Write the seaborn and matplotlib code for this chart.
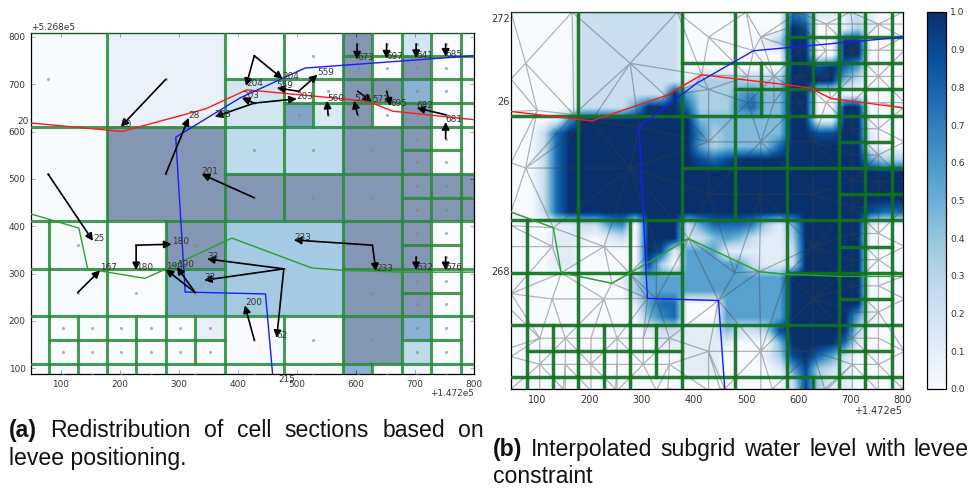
import numpy as np
import matplotlib
matplotlib.use("Agg")
import matplotlib.pyplot as plt
import matplotlib.tri as mtri
from matplotlib.patches import Rectangle
import seaborn as sns

# GRID CELLS (x0, x1, y0, y1, left panel water fraction)
cell_x0 = [-22, 178, 378, 478, 378, 478, 528, 478, 528,
           578, 628, 678, 728, 778, 578, 628, 678, 728, 778,
           578, 628, 678, 728, 778, 578, 628, 678, 728, 778,
           -22, 178, 378, 478, 378, 478, 578, 578,
           678, 678, 728, 728, 778, 678, 678, 728, 728, 778, 778,
           -22, -22, 80, 80, 178, 178, 278, 278, 378, 578, 578,
           678, 678, 678, 678, 728, 728, 728, 728, 778, 778,
           -22, 80, 130, 178, 228, 278, 328, 80, 130, 178, 228, 278, 328,
           378, 478, 578, 678, 678, 728, 728, 778,
           -22, 80, 130, 178, 228, 278, 378, 478, 578, 628, 678, 728, 778]
cell_x1 = [178, 378, 478, 578, 478, 528, 578, 528, 578,
           628, 678, 728, 778, 828, 628, 678, 728, 778, 828,
           628, 678, 728, 778, 828, 628, 678, 728, 778, 828,
           178, 378, 478, 578, 478, 578, 678, 678,
           728, 728, 778, 778, 828, 728, 728, 778, 778, 828, 828,
           80, 80, 178, 178, 278, 278, 378, 378, 578, 678, 678,
           728, 728, 728, 728, 778, 778, 778, 778, 828, 828,
           80, 130, 178, 228, 278, 328, 378, 130, 178, 228, 278, 328, 378,
           478, 578, 678, 728, 728, 778, 778, 828,
           80, 130, 178, 228, 278, 378, 478, 578, 628, 678, 728, 778, 828]
cell_y0 = [610, 610, 710, 710, 610, 660, 660, 610, 610,
           760, 760, 760, 760, 760, 710, 710, 710, 710, 710,
           660, 660, 660, 660, 660, 610, 610, 610, 610, 610,
           410, 410, 510, 510, 410, 410, 510, 410,
           560, 510, 560, 510, 510, 460, 410, 460, 410, 460, 410,
           310, 210, 310, 210, 310, 210, 310, 210, 210, 310, 210,
           360, 310, 260, 210, 360, 310, 260, 210, 310, 210,
           110, 160, 160, 160, 160, 160, 160, 110, 110, 110, 110, 110, 110,
           110, 110, 110, 160, 110, 160, 110, 110,
           60, 60, 60, 60, 60, 60, 60, 60, 60, 60, 60, 60, 60]
cell_y1 = [810, 810, 810, 810, 710, 710, 710, 660, 660,
           810, 810, 810, 810, 810, 760, 760, 760, 760, 760,
           710, 710, 710, 710, 710, 660, 660, 660, 660, 660,
           610, 610, 610, 610, 510, 510, 610, 510,
           610, 560, 610, 560, 610, 510, 460, 510, 460, 510, 460,
           410, 310, 410, 310, 410, 310, 410, 310, 410, 410, 310,
           410, 360, 310, 260, 410, 360, 310, 260, 410, 310,
           210, 210, 210, 210, 210, 210, 210, 160, 160, 160, 160, 160, 160,
           210, 210, 210, 210, 160, 210, 160, 210,
           110, 110, 110, 110, 110, 110, 110, 110, 110, 110, 110, 110, 110]
cell_val = [0.02, 0.17, 0.0, 0.0, 0.35, 0.0, 0.0, 0.9, 0.3,
            1.0, 0.0, 0.35, 0.0, 0.0, 1.0, 0.0, 1.0, 0.0, 0.0,
            1.0, 1.0, 0.8, 0.0, 0.0, 1.0, 0.0, 1.0, 0.0, 0.0,
            0.02, 1.0, 0.45, 0.45, 1.0, 1.0, 1.0, 1.0,
            1.0, 1.0, 0.0, 0.0, 0.0, 1.0, 1.0, 1.0, 1.0, 1.0, 1.0,
            0.02, 0.02, 0.02, 0.02, 0.0, 0.0, 1.0, 0.8, 0.6, 1.0, 1.0,
            1.0, 1.0, 1.0, 1.0, 0.0, 0.0, 0.0, 0.0, 0.0, 0.0,
            0.02, 0.0, 0.0, 0.0, 0.0, 0.0, 0.2, 0.0, 0.0, 0.0, 0.0, 0.0, 0.0,
            0.03, 0.02, 1.0, 0.8, 0.45, 0.0, 0.0, 0.0,
            0.02, 0.02, 0.02, 0.02, 0.02, 0.02, 0.02, 0.02, 0.8, 0.0, 0.1, 0.0, 0.0]

# LEVEES AND CHANNEL
red_x = [50, 204, 346, 415, 578, 622, 662, 800]
red_y = [618, 600, 648, 688, 669, 663, 643, 625]
blue_x = [459, 447, 311, 295, 404, 514, 800]
blue_y = [88, 257, 261, 588, 671, 734, 760]
green_x = [50, 131, 146, 243, 277, 390, 525, 578, 680, 800]
green_y = [426, 396, 310, 290, 309, 375, 312, 307, 303, 303]

# REDISTRIBUTION ARROWS
arrow_labels = ["20", "28", "201", "25", "167", "180", "180", "190", "190", "33", "33", "62",
                "233", "233", "632", "676", "200", "673", "697", "641", "685", "204", "204",
                "559", "559", "203", "203", "203", "560", "570", "571", "695", "682", "681"]
arrow_x0 = [278, 278, 428, 79, 129, 228, 228, 328, 328, 478, 478, 478,
            628, 628, 702, 752, 428, 602, 652, 702, 752, 428, 428,
            503, 503, 428, 428, 428, 553, 603, 603, 652, 753, 752]
arrow_y0 = [710, 510, 460, 510, 260, 360, 360, 260, 260, 310, 310, 310,
            360, 360, 335, 335, 160, 785, 785, 785, 785, 760, 760,
            685, 685, 660, 660, 660, 635, 635, 685, 685, 635, 585]
arrow_x1 = [202, 317, 339, 155, 167, 288, 228, 278, 297, 348, 343, 466,
            495, 634, 702, 752, 412, 602, 652, 702, 752, 414, 476,
            535, 466, 407, 500, 361, 551, 597, 627, 659, 703, 752]
arrow_y1 = [610, 629, 510, 369, 307, 362, 307, 309, 314, 331, 286, 164,
            371, 305, 307, 307, 233, 752, 754, 755, 758, 696, 711,
            720, 692, 671, 669, 631, 665, 665, 663, 654, 650, 620]

# INTERPOLATED WATER LEVEL, one digit per 25 m block (0 dry, 9 full), rows from y=800 down to y=100
field_rows = [
    "000002222222200000000761112100",
    "000002222222200000000980013100",
    "000002222222200000013990099000",
    "000002222222200000000990099000",
    "000002222222200000000998975000",
    "000002222222213333333999942000",
    "000002222222953335644990000000",
    "000002222599973336744990099000",
    "000169999999994444444991199000",
    "002799999999996344444998899100",
    "002799999999995344447999999100",
    "002799999999998789999999999533",
    "002799999999999999999999999999",
    "002799999999999999999999999999",
    "002799999999999999999999999999",
    "002799999999999999999999999877",
    "000112256099925777631499999100",
    "000111012099922454211399999000",
    "000110000098155511111299999000",
    "000110000083055555211299999000",
    "000000001355555555555999999000",
    "000000000355555555555999999000",
    "000000000157700055555999999000",
    "000000000046700055555999995100",
    "000000000012211142238999993000",
    "000000000001111110004999971000",
    "000000000000011100013897520000",
    "000000000000011100001583210000",
    "000000000000000000000283110000",
]

# EXTRA MESH NODES on the domain edges
extra_x = [50, 167, 368, 500, 600, 700, 800, 50, 100, 170, 50, 50, 50, 50, 50, 150, 250, 350, 450, 550, 650, 800]
extra_y = [808, 808, 808, 808, 808, 808, 808, 680, 620, 612, 520, 400, 270, 150, 88, 88, 88, 88, 88, 88, 88, 88]

cbar_ticks = [0.0, 0.1, 0.2, 0.3, 0.4, 0.5, 0.6, 0.7, 0.8, 0.9, 1.0]

sns.set_theme(style="ticks")
plt.rcParams["font.family"] = ["DejaVu Sans"]
plt.rcParams["xtick.direction"] = "in"
plt.rcParams["ytick.direction"] = "in"
plt.rcParams["xtick.top"] = True
plt.rcParams["ytick.right"] = True
plt.rcParams["axes.edgecolor"] = "black"
plt.rcParams["axes.linewidth"] = 0.9

W, H = 971, 488
blues = sns.color_palette("Blues", as_cmap=True)
TEXT = "#333333"

fig = plt.figure(figsize=(W / 100, H / 100), dpi=100)
ax_a = fig.add_axes([31 / W, 1 - 374 / H, 443 / W, 341 / H])
ax_b = fig.add_axes([511 / W, 1 - 389 / H, 392 / W, 377 / H])
cax = fig.add_axes([927 / W, 1 - 389 / H, 19 / W, 377 / H])

cx = (np.array(cell_x0) + np.array(cell_x1)) / 2
cy = (np.array(cell_y0) + np.array(cell_y1)) / 2


def draw_edges(ax, color, lw, alpha):
    for x0, x1, y0, y1 in zip(cell_x0, cell_x1, cell_y0, cell_y1):
        ax.add_patch(Rectangle((x0, y0), x1 - x0, y1 - y0, fc="none", ec=color,
                               lw=lw, alpha=alpha, zorder=3))


def draw_levees(ax):
    sns.lineplot(x=green_x, y=green_y, color="#2ca02c", lw=1, sort=False, estimator=None, ax=ax, zorder=4)
    sns.lineplot(x=red_x, y=red_y, color="#ff1a1a", lw=1, sort=False, estimator=None, ax=ax, zorder=4)
    sns.lineplot(x=blue_x, y=blue_y, color="#1a1aff", lw=1, sort=False, estimator=None, ax=ax, zorder=4)


# PANEL A
for x0, x1, y0, y1, v in zip(cell_x0, cell_x1, cell_y0, cell_y1, cell_val):
    ax_a.add_patch(Rectangle((x0, y0), x1 - x0, y1 - y0, fc=blues(v), ec="none", alpha=0.5, zorder=1))
draw_edges(ax_a, "#2a8a38", 2.2, 0.62)
sns.scatterplot(x=cx, y=cy, color="gray", s=5, alpha=0.6, linewidth=0, ax=ax_a, zorder=5)
draw_levees(ax_a)
for lab, x0, y0, x1, y1 in zip(arrow_labels, arrow_x0, arrow_y0, arrow_x1, arrow_y1):
    ax_a.annotate("", xy=(x1, y1), xytext=(x0, y0),
                  arrowprops=dict(arrowstyle="-|>", color="black", lw=1.2, mutation_scale=11,
                                  shrinkA=0, shrinkB=0), zorder=6)
    ax_a.text(x1, y1, lab, fontsize=6.4, color=TEXT, zorder=7)
ax_a.text(26, 622, "20", fontsize=6.4, color=TEXT, va="center", ha="left")
ax_a.text(469, 77, "215", fontsize=6.4, color=TEXT, va="center", ha="left")
ax_a.set_xlim(50, 800)
ax_a.set_ylim(88, 808)
ax_a.set_xticks(range(100, 801, 100))
ax_a.set_yticks(range(100, 801, 100))
ax_a.tick_params(labelsize=6.4, length=3, width=0.5, labelcolor=TEXT, pad=4)

# PANEL B
field = np.array([[int(c) / 9 for c in row] for row in field_rows])
im = ax_b.imshow(field, cmap=blues, vmin=0, vmax=1, extent=(50, 800, 87.5, 812.5), aspect="auto",
                 interpolation="bilinear", zorder=1)
mesh_x = np.concatenate([cx, red_x, blue_x, green_x, extra_x])
mesh_y = np.concatenate([cy, red_y, blue_y, green_y, extra_y])
ax_b.triplot(mtri.Triangulation(mesh_x, mesh_y), color="0.25", alpha=0.38, lw=0.9, zorder=2)
draw_edges(ax_b, "#127020", 2.4, 0.72)
draw_levees(ax_b)
ax_b.set_xlim(50, 800)
ax_b.set_ylim(88, 808)
ax_b.set_xticks(range(100, 801, 100))
ax_b.set_yticks(range(100, 801, 100))
ax_b.set_yticklabels([])
ax_b.tick_params(labelsize=7, length=3, width=0.5, labelcolor=TEXT, pad=4)

cb = fig.colorbar(im, cax=cax)
cb.set_ticks(cbar_ticks)
cax.tick_params(labelsize=6.6, length=3, width=0.5, direction="in", labelcolor=TEXT, pad=3, right=True, left=False)
cb.outline.set_linewidth(0.9)

# OFFSETS AND HAND-PLACED TICK LABELS
fig.text(31 / W, 1 - 27 / H, "+5.268e5", fontsize=6.4, color=TEXT, va="center")
fig.text(474 / W, 1 - 393 / H, "+1.472e5", fontsize=6.4, color=TEXT, va="center", ha="right")
fig.text(902 / W, 1 - 411 / H, "+1.472e5", fontsize=7, color=TEXT, va="center", ha="right")
fig.text(510 / W, 1 - 19 / H, "272", fontsize=7, color=TEXT, va="center", ha="right")
fig.text(510 / W, 1 - 102 / H, "26", fontsize=7, color=TEXT, va="center", ha="right")
fig.text(510 / W, 1 - 272 / H, "268", fontsize=7, color=TEXT, va="center", ha="right")


# CAPTIONS
def caption_line(x0, x1, py, head, words):
    # bold head plus words spread out to fill the column
    kw = dict(fontsize=16.6, family="Liberation Sans", va="baseline", color="#111111")
    rend = fig.canvas.get_renderer()
    pieces = []
    if head:
        pieces.append(fig.text(x0 / W, 1 - py / H, head, weight="bold", **kw))
    pieces += [fig.text(0, 1 - py / H, w, **kw) for w in words]
    widths = [p.get_window_extent(rend).width for p in pieces]
    gap = (x1 - x0 - sum(widths)) / (len(pieces) - 1)
    x = x0
    for p, w in zip(pieces, widths):
        p.set_x(x / W)
        x += w + gap


caption_line(9, 484, 437, "(a)", "Redistribution of cell sections based on".split())
fig.text(9 / W, 1 - 465 / H, "levee positioning.", fontsize=16.6, family="Liberation Sans", color="#111111")
caption_line(493, 969, 456, "(b)", "Interpolated subgrid water level with levee".split())
fig.text(493 / W, 1 - 483 / H, "constraint", fontsize=16.6, family="Liberation Sans", color="#111111")

fig.savefig("out.png", dpi=100)
